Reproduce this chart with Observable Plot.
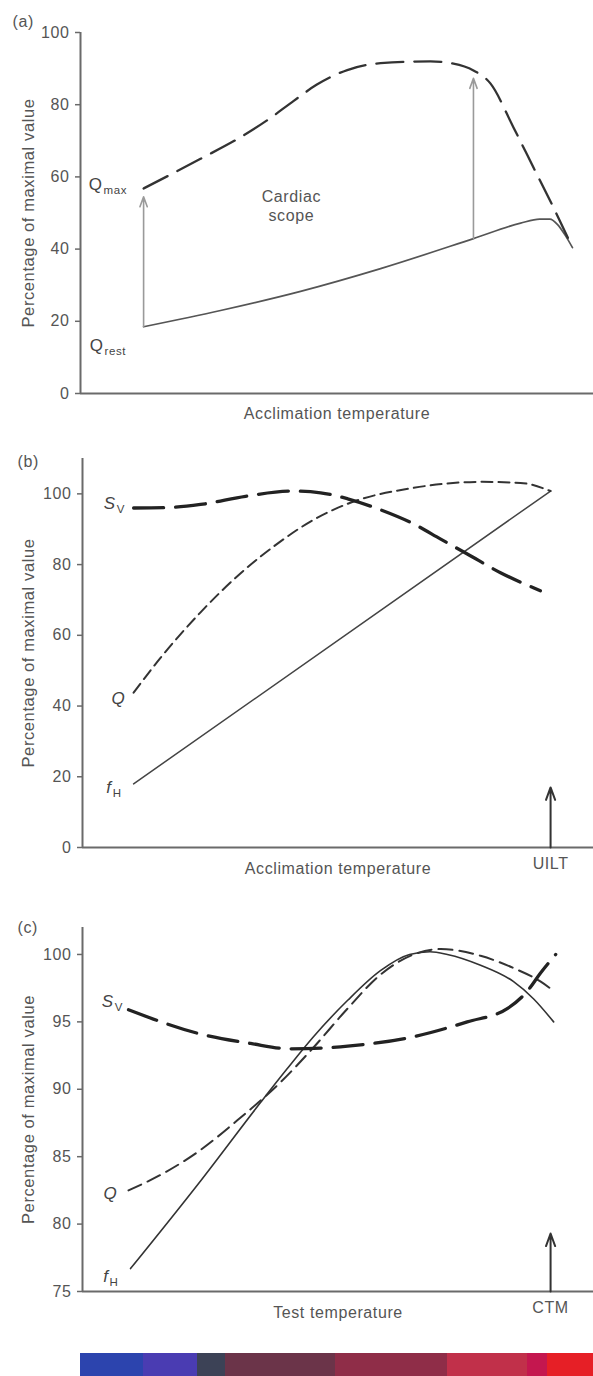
<!DOCTYPE html>
<html><head><meta charset="utf-8">
<script src="https://cdn.jsdelivr.net/npm/d3@7"></script>
<script src="https://cdn.jsdelivr.net/npm/@observablehq/plot@0.6"></script>
<style>
body{margin:0;background:#fff;}
#chart svg{display:block;}
</style></head><body><div id="chart"></div>
<script>
// ---------- DATA (x in arbitrary temperature units 0–100) ----------
const yTitle = "Percentage of maximal value";

// Panel (a)
const aTicks = [0, 20, 40, 60, 80, 100];
const aQmax = [[12.3,56.8],[23.4,65.0],[31.2,71.0],[36.5,75.8],[41.5,81.0],[46.0,85.5],[52.0,89.6],[58.5,91.5],[68.2,92.0],[72.7,91.4],[76.6,89.5],[79.9,85.9],[84.4,73.7],[88.3,62.6],[92.2,51.5],[95.9,40.4]];
const aQrest = [[12.3,18.5],[27.3,23.0],[42.9,28.3],[58.5,34.6],[76.6,42.9],[85.8,47.2],[89.5,48.3],[91.5,48.3],[93.0,46.8],[94.5,43.8],[95.9,40.4]];
const aArrows = [[12.3,18.5,54.5],[76.6,42.9,87.3]];
const aLabels = [{x:4.3,y:57.9,main:"Q",sub:"max"},{x:4.5,y:13.3,main:"Q",sub:"rest"}];
const aNote = [{x:41.1,y:52.2,text:"Cardiac\nscope"}];

// Panel (b)
const bTicks = [0, 20, 40, 60, 80, 100];
const bSv = [[10.0,96.0],[16.2,96.1],[23.1,97.0],[31.9,99.3],[40.7,100.8],[46.6,100.3],[51.9,98.6],[58.3,95.5],[64.8,91.5],[70.1,87.2],[75.3,83.0],[81.8,77.7],[89.6,72.6]];
const bQ = [[10.0,43.8],[15.3,53.7],[23.1,66.5],[30.9,77.5],[38.7,86.5],[45.0,92.5],[51.9,97.2],[64.8,101.7],[77.9,103.4],[85.7,103.1],[91.6,100.8]];
const bFh = [[10.0,18.0],[91.6,100.8]];
const bLabels = [{x:6.5,y:97.2,main:"S",sub:"V"},{x:8.4,y:42.1,main:"Q",sub:""},{x:5.7,y:16.9,main:"f",sub:"H"}];
const bMarker = [{x:91.6,y1:0,y2:17,text:"UILT"}];

// Panel (c)
const cTicks = [75, 80, 85, 90, 95, 100];
const cSv = [[9.0,95.9],[23.1,94.1],[32.9,93.4],[40.7,93.0],[51.9,93.2],[64.8,93.9],[75.3,95.0],[83.2,96.0],[87.1,97.3],[89.6,98.6],[92.6,100.0]];
const cQ = [[9.0,82.5],[16.0,83.8],[23.1,85.5],[30.3,87.7],[38.7,90.5],[45.2,93.1],[51.9,96.0],[58.3,98.5],[64.8,100.0],[70.1,100.4],[77.9,99.9],[84.3,99.0],[89.6,98.0],[92.2,97.3]];
const cFh = [[9.4,76.7],[23.1,83.2],[34.8,89.0],[40.0,91.5],[45.2,93.9],[51.9,96.6],[58.3,98.8],[64.0,100.0],[68.0,100.2],[71.4,100.0],[77.9,99.2],[84.3,98.0],[88.3,96.7],[92.2,95.0]];
const cLabels = [{x:6.1,y:96.5,main:"S",sub:"V"},{x:6.8,y:82.3,main:"Q",sub:""},{x:5.1,y:76.1,main:"f",sub:"H"}];
const cMarker = [{x:91.6,y1:75,y2:79.3,text:"CTM"}];

// Colour bar
const barStops = [0, 12.3, 22.8, 28.3, 49.7, 71.5, 87.1, 91.0, 100];
const barColors = ["#2c44ae","#4a3cb2","#3c4256","#6b3449","#8f2d48","#c1304a","#c4174f","#e61f26"];

// ---------- DRAWING ----------
const FONT = "'Liberation Sans', Arial, Helvetica, sans-serif";
const axisCol = "#6a6a6a";
const X = d => d[0], Y = d => d[1];
const CURVE = "monotone-x";

function panel(o) {
  return Plot.plot({
    width: 593, height: o.height,
    marginTop: o.mt, marginBottom: o.mb, marginLeft: o.ml, marginRight: 0,
    x: {domain: [0, 100], axis: null},
    y: {domain: o.yDomain, axis: null},
    style: {fontFamily: FONT, fontSize: "16px", color: "#555", letterSpacing: "0.6px", background: "transparent", overflow: "visible"},
    marks: [
      Plot.axisY({ticks: o.ticks, tickSize: 5, tickPadding: 6, label: null, fontSize: 16, stroke: axisCol, strokeWidth: 1.5}),
      Plot.ruleX([0], {stroke: axisCol, strokeWidth: 2}),
      Plot.ruleY([o.yDomain[0]], {stroke: axisCol, strokeWidth: 2}),
      Plot.text([yTitle], {text: d => d, frameAnchor: "left", textAnchor: "middle", dx: o.titleDx, rotate: -90, fontSize: 16.5}),
      Plot.text([o.xLabel], {text: d => d, frameAnchor: "bottom", textAnchor: "middle", dy: o.xLabelDy, fontSize: 16}),
      Plot.text([o.tag], {text: d => d, frameAnchor: "top-left", textAnchor: "start", dx: o.tagDx, dy: o.tagDy, fontSize: 16}),
      ...o.marks
    ]
  });
}

function symLabels(data, italic) {
  return [
    Plot.text(data, {x: "x", y: "y", text: "main", textAnchor: "end", fontSize: 17, fontStyle: italic ? "italic" : "normal", fill: "#444"}),
    Plot.text(data, {x: "x", y: "y", text: "sub", textAnchor: "start", dx: 1, dy: 6, fontSize: 11.5, fill: "#444"})
  ];
}

const chart = document.getElementById("chart");

// (a)
chart.append(panel({
  height: 440, mt: 32, mb: 47, ml: 80, yDomain: [0, 100], ticks: aTicks,
  titleDx: -52, xLabel: "Acclimation temperature", xLabelDy: 25,
  tag: "(a)", tagDx: -68, tagDy: -17,
  marks: [
    Plot.line(aQrest, {x: X, y: Y, curve: CURVE, stroke: "#555", strokeWidth: 1.7}),
    Plot.line(aQmax, {x: X, y: Y, curve: CURVE, stroke: "#333", strokeWidth: 2.3, strokeDasharray: "27,11"}),
    Plot.arrow(aArrows, {x1: d => d[0], x2: d => d[0], y1: d => d[1], y2: d => d[2], stroke: "#9a9a9a", strokeWidth: 1.6, headLength: 10, headAngle: 40}),
    Plot.text(aNote, {x: "x", y: "y", text: "text", fontSize: 16, lineHeight: 1.2, fill: "#555"}),
    ...symLabels(aLabels, false)
  ]
}));

// (b)
chart.append(panel({
  height: 450, mt: 18, mb: 43, ml: 82, yDomain: [0, 110], ticks: bTicks,
  titleDx: -54, xLabel: "Acclimation temperature", xLabelDy: 26,
  tag: "(b)", tagDx: -65, tagDy: -3,
  marks: [
    Plot.line(bFh, {x: X, y: Y, stroke: "#444", strokeWidth: 1.5}),
    Plot.line(bQ, {x: X, y: Y, curve: CURVE, stroke: "#333", strokeWidth: 2, strokeDasharray: "11,6"}),
    Plot.line(bSv, {x: X, y: Y, curve: CURVE, stroke: "#222", strokeWidth: 3.3, strokeDasharray: "30,12"}),
    Plot.arrow(bMarker, {x1: "x", x2: "x", y1: "y1", y2: "y2", stroke: "#333", strokeWidth: 2, headLength: 10, headAngle: 40}),
    Plot.text(bMarker, {x: "x", text: "text", frameAnchor: "bottom", textAnchor: "middle", dy: 21, fontSize: 16}),
    ...symLabels(bLabels, true)
  ]
}));

// (c)
chart.append(panel({
  height: 450, mt: 37, mb: 49, ml: 82, yDomain: [75, 102], ticks: cTicks,
  titleDx: -54, xLabel: "Test temperature", xLabelDy: 26,
  tag: "(c)", tagDx: -65, tagDy: -6,
  marks: [
    Plot.line(cFh, {x: X, y: Y, curve: CURVE, stroke: "#333", strokeWidth: 1.6}),
    Plot.line(cQ, {x: X, y: Y, curve: CURVE, stroke: "#333", strokeWidth: 2, strokeDasharray: "14,7"}),
    Plot.line(cSv, {x: X, y: Y, curve: CURVE, stroke: "#222", strokeWidth: 3.3, strokeDasharray: "30,12"}),
    Plot.arrow(cMarker, {x1: "x", x2: "x", y1: "y1", y2: "y2", stroke: "#333", strokeWidth: 2, headLength: 10, headAngle: 40}),
    Plot.text(cMarker, {x: "x", text: "text", frameAnchor: "bottom", textAnchor: "middle", dy: 21, fontSize: 16}),
    ...symLabels(cLabels, true)
  ]
}));

// colour bar
const bands = barColors.map((c, i) => ({x1: barStops[i], x2: barStops[i + 1], color: c}));
chart.append(Plot.plot({
  width: 593, height: 36, marginTop: 13, marginBottom: 0, marginLeft: 80, marginRight: 0,
  x: {domain: [0, 100], axis: null}, y: {axis: null},
  color: {type: "identity"},
  style: {background: "transparent"},
  marks: [Plot.rect(bands, {x1: "x1", x2: "x2", fill: "color", shapeRendering: "crispEdges"})]
}));
</script></body></html>
